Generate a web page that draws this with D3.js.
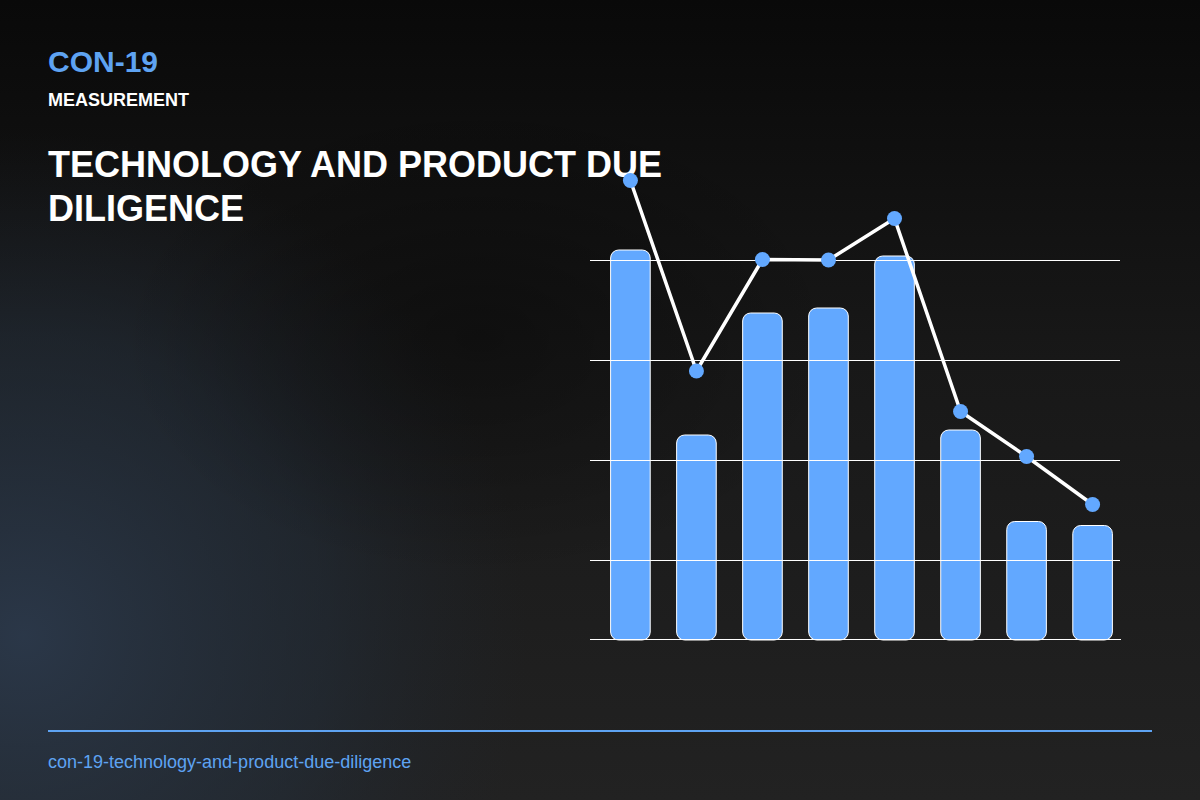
<!DOCTYPE html>
<html><head><meta charset="utf-8">
<script src="https://cdn.jsdelivr.net/npm/d3@7"></script>
<style>html,body{margin:0;padding:0;background:#1c1c1c;}svg{display:block;}</style>
</head><body>
<svg id="chart" width="1200" height="800"></svg>
<script>
const categories = ["C1","C2","C3","C4","C5","C6","C7","C8"];
const barValues = [82, 45, 69.4, 70.4, 80.8, 46, 27.7, 26.9];
const lineValues = [95.9, 57.8, 80.1, 80, 88.3, 49.7, 40.7, 31.1];
const gridTicks = [20, 40, 60, 80];
const code = "CON-19";
const kicker = "MEASUREMENT";
const titleLines = ["TECHNOLOGY AND PRODUCT DUE", "DILIGENCE"];
const slug = "con-19-technology-and-product-due-diligence";

const FONT = "Liberation Sans, Arial, Helvetica, sans-serif";
const svg = d3.select("#chart");
const defs = svg.append("defs");
const lg = defs.append("linearGradient").attr("id","bgv").attr("x1",0).attr("y1",0).attr("x2",0).attr("y2",1);
lg.append("stop").attr("offset","0").attr("stop-color","#090909");
lg.append("stop").attr("offset","0.45").attr("stop-color","#181818");
lg.append("stop").attr("offset","1").attr("stop-color","#222222");
const rg = defs.append("radialGradient").attr("id","glow").attr("cx",0.02).attr("cy",0.8).attr("r",0.42)
  .attr("gradientTransform","scale(1,1.5) translate(0,-0.27)");
rg.append("stop").attr("offset","0").attr("stop-color","#2c3a4d").attr("stop-opacity",0.9);
rg.append("stop").attr("offset","0.6").attr("stop-color","#24303e").attr("stop-opacity",0.5);
rg.append("stop").attr("offset","1").attr("stop-color","#1f2630").attr("stop-opacity",0);
const sh = defs.append("radialGradient").attr("id","shade").attr("cx",0.4).attr("cy",0.42).attr("r",0.3);
sh.append("stop").attr("offset","0").attr("stop-color","#000").attr("stop-opacity",0.35);
sh.append("stop").attr("offset","1").attr("stop-color","#000").attr("stop-opacity",0);

svg.append("rect").attr("width",1200).attr("height",800).attr("fill","url(#bgv)");
svg.append("rect").attr("width",1200).attr("height",800).attr("fill","url(#glow)");
svg.append("rect").attr("width",1200).attr("height",800).attr("fill","url(#shade)");

const x = d3.scaleBand().domain(categories).range([604,1119]).paddingInner(0.4).paddingOuter(0.1);
const y = d3.scaleLinear().domain([4,100]).range([640,160]);

const g = svg.append("g");
g.selectAll("rect.bar").data(barValues).join("rect").attr("class","bar")
  .attr("x",(d,i)=>x(categories[i])).attr("width",x.bandwidth())
  .attr("y",d=>y(d)).attr("height",d=>y(4)-y(d))
  .attr("rx",8).attr("ry",8)
  .attr("fill","#62a8ff").attr("stroke","#ffffff").attr("stroke-width",1);

g.selectAll("line.grid").data(gridTicks).join("line").attr("class","grid")
  .attr("x1",590).attr("x2",1120).attr("y1",d=>Math.round(y(d))+0.5).attr("y2",d=>Math.round(y(d))+0.5)
  .attr("stroke","#ffffff").attr("stroke-width",1);
g.append("line").attr("x1",590).attr("x2",1121).attr("y1",y(4)-0.5).attr("y2",y(4)-0.5)
  .attr("stroke","#ffffff").attr("stroke-width",1);

// header text
svg.append("text").attr("x",48).attr("y",72).text(code)
  .attr("font-family",FONT).attr("font-weight","bold").attr("font-size",30).attr("fill","#5ea3f2");
svg.append("text").attr("x",48).attr("y",106).text(kicker)
  .attr("font-family",FONT).attr("font-weight","bold").attr("font-size",18).attr("fill","#ffffff");
const title = svg.append("text")
  .attr("font-family",FONT).attr("font-weight","bold").attr("font-size",36).attr("fill","#ffffff");
title.selectAll("tspan").data(titleLines).join("tspan")
  .attr("x",48).attr("y",(d,i)=>177+i*44).text(d=>d);

// line + points
const line = d3.line().x((d,i)=>x(categories[i])+x.bandwidth()/2).y(d=>y(d));
svg.append("path").datum(lineValues).attr("d",line).attr("fill","none")
  .attr("stroke","#ffffff").attr("stroke-width",3.5).attr("stroke-linejoin","round");
svg.selectAll("circle.pt").data(lineValues).join("circle").attr("class","pt")
  .attr("cx",(d,i)=>x(categories[i])+x.bandwidth()/2).attr("cy",d=>y(d)).attr("r",7.5)
  .attr("fill","#62a8ff");

// footer
svg.append("line").attr("x1",48).attr("x2",1152).attr("y1",731).attr("y2",731)
  .attr("stroke","#5ea3f2").attr("stroke-width",2);
svg.append("text").attr("x",48).attr("y",768).text(slug)
  .attr("font-family",FONT).attr("font-size",18).attr("fill","#5ea3f2");
</script>
</body></html>
